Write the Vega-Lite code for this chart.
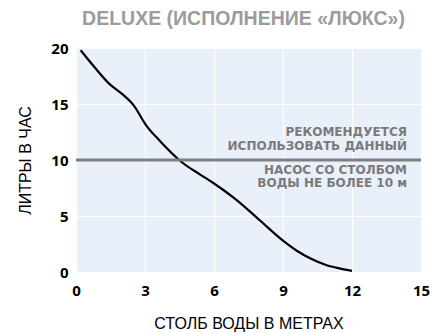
{
  "$schema": "https://vega.github.io/schema/vega-lite/v6.json",
  "width": 345,
  "height": 224,
  "autosize": {"type": "none"},
  "padding": {"left": 76, "top": 48, "right": 11, "bottom": 61},
  "background": "white",
  "title": {
    "text": "DELUXE (ИСПОЛНЕНИЕ «ЛЮКС»)",
    "font": "Liberation Sans",
    "fontWeight": "bold",
    "fontSize": 19.5,
    "color": "#9c9c9c",
    "anchor": "middle",
    "offset": 12,
    "dx": -5
  },
  "config": {
    "view": {"fill": "#eaf0fa", "stroke": null},
    "axis": {
      "domain": false,
      "ticks": false,
      "grid": true,
      "gridColor": "white",
      "gridWidth": 1,
      "labelFont": "Open Sans",
      "labelFontWeight": "bold",
      "labelFontSize": 15,
      "labelColor": "black",
      "titleFont": "Liberation Sans",
      "titleFontWeight": "normal",
      "titleFontSize": 16,
      "titleColor": "black"
    }
  },
  "datasets": {
    "curve": [
      {"m": 0.2, "l": 19.8},
      {"m": 0.8, "l": 18.3},
      {"m": 1.45, "l": 16.8},
      {"m": 2.0, "l": 15.9},
      {"m": 2.5, "l": 14.9},
      {"m": 3.05, "l": 13.1},
      {"m": 3.6, "l": 11.8},
      {"m": 4.6, "l": 9.8},
      {"m": 5.4, "l": 8.7},
      {"m": 6.0, "l": 7.9},
      {"m": 7.0, "l": 6.4},
      {"m": 8.0, "l": 4.6},
      {"m": 9.0, "l": 2.8},
      {"m": 9.6, "l": 1.9},
      {"m": 10.2, "l": 1.2},
      {"m": 10.9, "l": 0.6},
      {"m": 11.5, "l": 0.3},
      {"m": 12.0, "l": 0.1}
    ],
    "notes": [
      {"m": 14.39, "l": 12.46, "t": "РЕКОМЕНДУЕТСЯ"},
      {"m": 14.39, "l": 11.25, "t": "ИСПОЛЬЗОВАТЬ ДАННЫЙ"},
      {"m": 14.39, "l": 9.15, "t": "НАСОС СО СТОЛБОМ"},
      {"m": 14.39, "l": 7.97, "t": "ВОДЫ НЕ БОЛЕЕ 10 м"}
    ],
    "limit": [{"l": 10}]
  },
  "layer": [
    {
      "data": {"name": "curve"},
      "mark": {"type": "line", "color": "black", "strokeWidth": 2.2, "interpolate": "monotone"},
      "encoding": {
        "x": {
          "field": "m", "type": "quantitative",
          "scale": {"domain": [0, 15], "nice": false, "zero": false},
          "axis": {"values": [0, 3, 6, 9, 12, 15], "title": "СТОЛБ ВОДЫ В МЕТРАХ", "labelPadding": 11, "labelFlush": false, "labelOverlap": false, "titlePadding": 17}
        },
        "y": {
          "field": "l", "type": "quantitative",
          "scale": {"domain": [0, 20], "nice": false},
          "axis": {"values": [0, 5, 10, 15, 20], "title": "ЛИТРЫ В ЧАС", "labelPadding": 8, "titlePadding": 17}
        }
      }
    },
    {
      "data": {"name": "limit"},
      "mark": {"type": "rule", "color": "#7f7f7f", "strokeWidth": 3},
      "encoding": {"y": {"field": "l", "type": "quantitative"}}
    },
    {
      "data": {"name": "notes"},
      "mark": {"type": "text", "align": "right", "baseline": "middle", "font": "DejaVu Sans", "fontWeight": "bold", "fontSize": 12, "color": "#7a7a7a"},
      "encoding": {
        "x": {"field": "m", "type": "quantitative"},
        "y": {"field": "l", "type": "quantitative"},
        "text": {"field": "t"}
      }
    }
  ]
}
